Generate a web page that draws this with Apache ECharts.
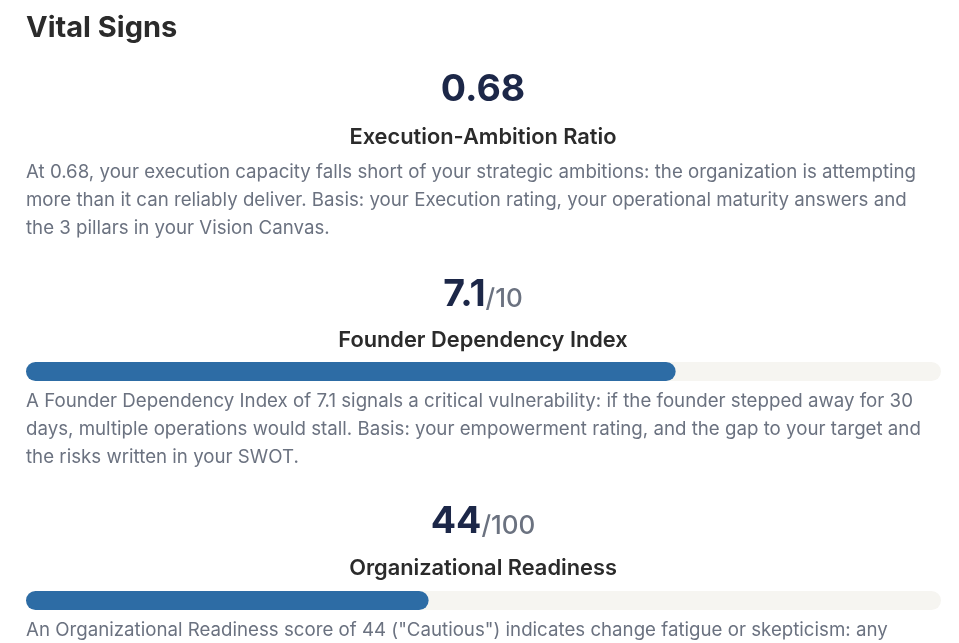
<!DOCTYPE html>
<html>
<head>
<meta charset="utf-8">
<script src="https://cdn.jsdelivr.net/npm/echarts@6/dist/echarts.min.js"></script>
<style>
  html, body { margin: 0; padding: 0; background: #fff; }
  #chart { width: 959px; height: 643px; }
</style>
</head>
<body>
<div id="chart"></div>
<script>
  const metricNames = ["Execution-Ambition Ratio", "Founder Dependency Index", "Organizational Readiness"];
  const metricValues = [0.68, 7.1, 44];
  const metricScales = [null, 10, 100];
  const metricTexts = [
    [
      "At 0.68, your execution capacity falls short of your strategic ambitions: the organization is attempting",
      "more than it can reliably deliver. Basis: your Execution rating, your operational maturity answers and",
      "the 3 pillars in your Vision Canvas."
    ],
    [
      "A Founder Dependency Index of 7.1 signals a critical vulnerability: if the founder stepped away for 30",
      "days, multiple operations would stall. Basis: your empowerment rating, and the gap to your target and",
      "the risks written in your SWOT."
    ],
    [
      "An Organizational Readiness score of 44 (\"Cautious\") indicates change fatigue or skepticism: any"
    ]
  ];

  const font = "Inter, 'Noto Sans', sans-serif";
  const chart = echarts.init(document.getElementById("chart"));

  const valueY = [90, 295, 522];
  const nameY = [137, 340, 568];
  const textY = [172, 401, 630];
  const barY = [null, 362, 591];

  const graphic = [{
    type: "text", x: 26, y: 28,
    style: { text: "Vital Signs", font: "bold 29px " + font, fill: "#2b2b2b", verticalAlign: "middle" }
  }];

  metricValues.forEach((v, i) => {
    const scale = metricScales[i];
    graphic.push({
      type: "text", x: 483, y: valueY[i],
      style: {
        text: scale ? "{v|" + v + "}{s|/" + scale + "}" : "{v|" + v + "}",
        rich: {
          v: { font: "bold 37.5px " + font, fill: "#1c2748" },
          s: { font: "500 26px " + font, fill: "#6b7280", padding: [8, 0, 0, 0] }
        },
        align: "center", verticalAlign: "middle"
      }
    });
    graphic.push({
      type: "text", x: 483, y: nameY[i],
      style: { text: metricNames[i], font: "600 21.8px " + font, fill: "#2b2b2b", align: "center", verticalAlign: "middle" }
    });
    metricTexts[i].forEach((line, j) => {
      graphic.push({
        type: "text", x: 26, y: textY[i] + j * 28,
        style: { text: line, font: "18.7px " + font, fill: "#6b7280", verticalAlign: "middle" }
      });
    });
  });

  const grids = [];
  const xAxes = [];
  const yAxes = [];
  const series = [];
  metricValues.forEach((v, i) => {
    if (!metricScales[i]) return;
    const idx = grids.length;
    grids.push({ left: 26, right: 18, top: barY[i], height: 19 });
    xAxes.push({ gridIndex: idx, type: "value", min: 0, max: metricScales[i], show: false });
    yAxes.push({ gridIndex: idx, type: "category", data: [metricNames[i]], show: false });
    series.push({
      type: "bar", xAxisIndex: idx, yAxisIndex: idx, data: [v], barWidth: 19,
      showBackground: true,
      backgroundStyle: { color: "#f6f5f1", borderRadius: 10 },
      itemStyle: { color: "#2d6ca5", borderRadius: 10 },
      silent: true
    });
  });

  chart.setOption({
    animation: false,
    grid: grids,
    xAxis: xAxes,
    yAxis: yAxes,
    series: series,
    graphic: graphic
  });
</script>
</body>
</html>
